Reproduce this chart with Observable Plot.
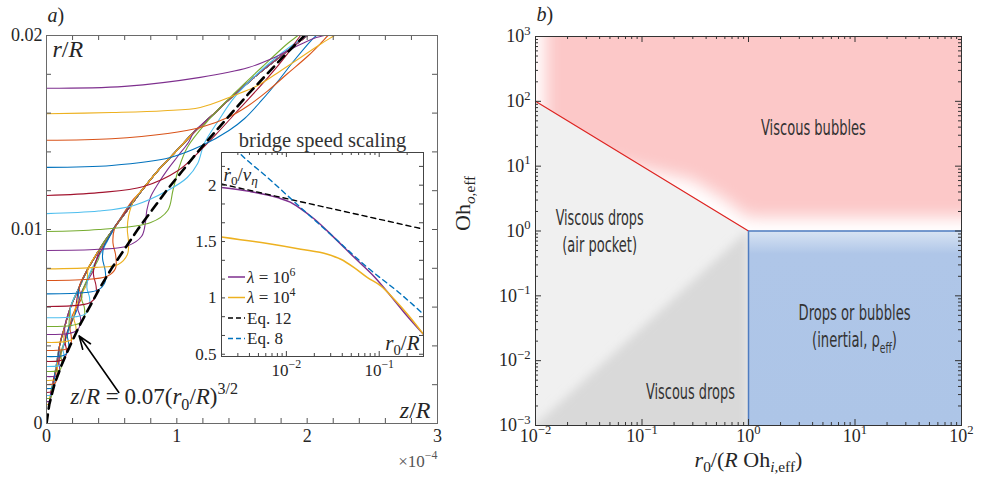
<!DOCTYPE html>
<html><head><meta charset="utf-8">
<script src="https://cdn.jsdelivr.net/npm/d3@7"></script>
<script src="https://cdn.jsdelivr.net/npm/@observablehq/plot@0.6"></script>
<style>
body{margin:0;background:#fff;}
#fig{position:relative;width:986px;height:487px;overflow:hidden;background:#fff;}
</style></head><body><div id="fig"></div><script>
// ---------------- DATA ----------------
// Panel a: neck profiles (z/R in units of 1e-4, r/R), listed from top (latest) to bottom (earliest)
const profiles = [
 [[0,0.01728],[0.6,0.01738],[1.18,0.01784],[1.55,0.01835],[1.75,0.01887],[1.90,0.01938],[2.05,0.01985],[2.13,0.0200],[2.2,0.0202]],
 [[0,0.01597],[0.5,0.01603],[0.9,0.01612],[1.18,0.01629],[1.44,0.01691],[1.62,0.01742],[1.80,0.0182],[1.95,0.01887],[2.11,0.01959],[2.21,0.0200],[2.28,0.0203]],
 [[0,0.0146],[0.5,0.01468],[0.93,0.01495],[1.18,0.01526],[1.40,0.0158],[1.55,0.01639],[1.70,0.01716],[1.85,0.01804],[2.01,0.01897],[2.11,0.01964],[2.16,0.0200],[2.2,0.0202]],
 [[0,0.0132],[0.5,0.0133],[0.95,0.01371],[1.2,0.01435],[1.40,0.0151],[1.52,0.01572],[1.65,0.01665],[1.78,0.01768],[1.90,0.01871],[2.03,0.01974],[2.07,0.0200],[2.1,0.0202]],
 [[0,0.01175],[0.4,0.0119],[0.746,0.01222],[1.01,0.01304],[1.18,0.01407],[1.30,0.0149],[1.49,0.01629],[1.70,0.01784],[1.85,0.01907],[1.95,0.0200],[2.0,0.0203]],
 [[0,0.01082],[0.4,0.01095],[0.67,0.01124],[0.93,0.01201],[1.08,0.01268],[1.16,0.0134],[1.21,0.01443],[1.32,0.01562],[1.44,0.0168],[1.62,0.01804],[1.80,0.01907],[1.99,0.0200],[2.05,0.0203]],
 [[0,0.0099],[0.4,0.01],[0.80,0.01036],[0.93,0.01098],[0.97,0.01201],[1.01,0.01304],[1.08,0.01423],[1.24,0.01562],[1.44,0.01701],[1.65,0.01835],[1.85,0.01959],[1.93,0.0200],[1.98,0.0203]],
 [[0,0.00892],[0.40,0.00898],[0.62,0.00915],[0.73,0.00965],[0.76,0.0104],[0.77,0.0110],[0.80,0.0117],[0.86,0.0124],[0.93,0.0131],[1.01,0.0138],[1.09,0.0145]],
 [[0,0.00797],[0.38,0.00805],[0.55,0.0082],[0.62,0.0087],[0.63,0.0093],[0.62,0.0100],[0.63,0.0107],[0.67,0.0115],[0.74,0.0121]],
 [[0,0.00737],[0.35,0.00745],[0.47,0.0076],[0.53,0.0080],[0.53,0.0087],[0.51,0.0093],[0.52,0.0100],[0.58,0.0107],[0.66,0.0115],[0.73,0.0120]],
 [[0,0.00668],[0.30,0.00675],[0.40,0.0069],[0.45,0.0073],[0.45,0.0079],[0.43,0.0085],[0.44,0.0091],[0.49,0.0097],[0.55,0.0104],[0.61,0.0110]],
 [[0,0.00603],[0.25,0.0061],[0.34,0.00625],[0.38,0.0066],[0.38,0.0071],[0.36,0.0077],[0.37,0.0082],[0.41,0.0088],[0.47,0.0095],[0.53,0.0102]],
 [[0,0.00545],[0.22,0.0055],[0.30,0.00565],[0.33,0.0060],[0.33,0.0065],[0.31,0.0070],[0.32,0.0075],[0.35,0.0080],[0.40,0.0086],[0.46,0.0093]],
 [[0,0.0050],[0.19,0.00505],[0.26,0.0052],[0.29,0.0055],[0.29,0.0060],[0.27,0.0064],[0.28,0.0069],[0.31,0.0074],[0.35,0.0079],[0.40,0.0085]],
 [[0,0.00459],[0.17,0.00464],[0.23,0.00478],[0.26,0.0051],[0.26,0.0055],[0.24,0.0059],[0.25,0.0063],[0.27,0.0068],[0.31,0.0073],[0.36,0.0079]],
 [[0,0.00418],[0.15,0.00422],[0.20,0.00435],[0.225,0.00465],[0.225,0.0050],[0.21,0.0054],[0.215,0.0058],[0.235,0.0062],[0.27,0.0067],[0.31,0.0072]],
 [[0,0.00376],[0.13,0.0038],[0.17,0.0039],[0.19,0.0042],[0.19,0.0045],[0.18,0.0049],[0.185,0.0052],[0.20,0.0056],[0.23,0.0060],[0.27,0.0065]],
 [[0,0.00345],[0.115,0.00348],[0.15,0.00358],[0.17,0.00385],[0.17,0.00415],[0.16,0.0045],[0.165,0.0048],[0.18,0.0051],[0.21,0.0055],[0.24,0.0060]],
 [[0,0.0032],[0.10,0.00323],[0.135,0.00332],[0.152,0.00357],[0.152,0.00385],[0.143,0.00416],[0.147,0.00445],[0.16,0.00475],[0.185,0.0051],[0.215,0.0056]],
 [[0,0.00294],[0.09,0.00297],[0.12,0.00305],[0.134,0.00328],[0.134,0.00354],[0.126,0.00382],[0.13,0.00408],[0.142,0.00436],[0.165,0.0047],[0.19,0.0051]],
 [[0,0.00268],[0.08,0.0027],[0.105,0.00278],[0.117,0.003],[0.117,0.00322],[0.11,0.00348],[0.113,0.00372],[0.124,0.00397],[0.145,0.0043],[0.167,0.0047]],
 [[0,0.00242],[0.07,0.00244],[0.09,0.00251],[0.10,0.0027],[0.10,0.0029],[0.095,0.00314],[0.097,0.00336],[0.107,0.00358],[0.125,0.0039],[0.145,0.0042]],
 [[0,0.00222],[0.06,0.00224],[0.079,0.0023],[0.0875,0.00248],[0.0875,0.00266],[0.083,0.00288],[0.085,0.00308],[0.093,0.00328],[0.109,0.00357],[0.127,0.0039]],
 [[0,0.00201],[0.052,0.00203],[0.068,0.00209],[0.076,0.00225],[0.076,0.00241],[0.072,0.00261],[0.074,0.00279],[0.081,0.00297],[0.095,0.00323],[0.11,0.0035]],
 [[0,0.0018],[0.044,0.00182],[0.058,0.00187],[0.064,0.00202],[0.064,0.00216],[0.061,0.00234],[0.062,0.0025],[0.068,0.00266],[0.08,0.0029],[0.093,0.00314]],
 [[0,0.0016],[0.037,0.00162],[0.048,0.00166],[0.0535,0.0018],[0.0535,0.00192],[0.051,0.00208],[0.052,0.00222],[0.057,0.00237],[0.067,0.00258],[0.078,0.0028]],
 [[0,0.00144],[0.032,0.00146],[0.041,0.0015],[0.046,0.00162],[0.046,0.00173],[0.044,0.00187],[0.045,0.002],[0.049,0.00213],[0.058,0.00232],[0.067,0.00252]],
 [[0,0.00129],[0.027,0.0013],[0.035,0.00134],[0.039,0.00145],[0.039,0.00155],[0.037,0.00168],[0.038,0.00179],[0.042,0.00191],[0.049,0.00208],[0.057,0.00226]],
 [[0,0.00113],[0.022,0.00114],[0.029,0.00117],[0.032,0.00127],[0.032,0.00136],[0.031,0.00147],[0.031,0.00157],[0.034,0.00167],[0.04,0.00182],[0.047,0.00198]],
 [[0,0.00098],[0.018,0.00099],[0.024,0.00102],[0.026,0.0011],[0.026,0.00118],[0.025,0.00127],[0.025,0.00136],[0.028,0.00145],[0.033,0.00158],[0.038,0.00172]]
];
// undisturbed drop shape that the older profiles merge onto
const envelope = [[0,0],[0.012,0.001],[0.03,0.0015],[0.05,0.002],[0.075,0.003],[0.1,0.004],[0.14,0.005],[0.185,0.006],[0.25,0.007],[0.32,0.008],[0.41,0.009],[0.51,0.010],[0.62,0.011],[0.73,0.012],[0.85,0.013],[0.99,0.014],[1.13,0.015],[1.29,0.016],[1.45,0.017],[1.62,0.018],[1.81,0.019],[2.0,0.020],[2.1,0.0205]];
// z/R = 0.07 (r0/R)^{3/2}
const scalingLaw = [[0,0],[0.022,0.001],[0.06,0.002],[0.115,0.003],[0.18,0.004],[0.25,0.005],[0.33,0.006],[0.41,0.007],[0.50,0.008],[0.60,0.009],[0.70,0.010],[0.81,0.011],[0.92,0.012],[1.04,0.013],[1.16,0.014],[1.29,0.015],[1.42,0.016],[1.55,0.017],[1.69,0.018],[1.83,0.019],[1.98,0.020]];
const colorCycle = ["purple","yellow","orange","blue","darkred","lightblue","green"];
const aXTicks = [0,1,2,3];
const aYTicks = [0,0.01,0.02];
const aYTickLabels = ["0","0.01","0.02"];

// Inset: bridge speed scaling (x = r0/R, y = rdot0/v_eta)
const lam6 = [[0.002,1.98],[0.004,1.945],[0.008,1.89],[0.011,1.85],[0.0143,1.79],[0.02,1.70],[0.0327,1.535],[0.0537,1.36],[0.088,1.19],[0.145,0.98],[0.2,0.84],[0.3,0.677]];
const lam4 = [[0.002,1.541],[0.00627,1.482],[0.0143,1.432],[0.0277,1.388],[0.0386,1.343],[0.0537,1.269],[0.0748,1.18],[0.104,1.106],[0.145,0.988],[0.2017,0.855],[0.3,0.677]];
const eq12 = [[0.002,2.01],[0.0245,1.81],[0.3,1.61]];
const eq8 = [[0.0028,2.33],[0.0031,2.29],[0.00627,2.068],[0.0143,1.80],[0.0327,1.535],[0.0748,1.269],[0.171,1.033],[0.3,0.855]];
const insetYTicks = [0.5,1,1.5,2];
const insetXTicks = [0.01,0.1];
const insetXTickLabels = ["10^{−2}","10^{−1}"];
const legendLabels = ["$λ$ = 10^{6}","$λ$ = 10^{4}","Eq. 12","Eq. 8"];

// Panel b: regime map
const bXTicks = [0.01,0.1,1,10,100];
const bXTickLabels = ["10^{−2}","10^{−1}","10^{0}","10^{1}","10^{2}"];
const bYTicks = [1e-3,1e-2,1e-1,1,10,100,1000];
const bYTickLabels = ["10^{−3}","10^{−2}","10^{−1}","10^{0}","10^{1}","10^{2}","10^{3}"];
const redBoundary = [[0.01,100],[1,1]];
const blueBoundary = [[1,1e-3],[1,1],[100,1]];
const pinkEdge = [[0.0125,40],[0.05,12],[0.12,8.5],[0.3,6],[0.6,3],[1,1.6],[1000,1.6]];
const shadeEdge = [[0.006,0.00046],[1,1]];
const blueRegion = [{x1:1,x2:100,y1:1e-3,y2:1}];
const regionLabels = ["Viscous bubbles","Viscous drops","(air pocket)","Drops or bubbles","(inertial, ρ_{eff})","Viscous drops"];

// ---------------- STYLE ----------------
const serif = "'Liberation Serif','DejaVu Serif',serif";
const narrow = "'Liberation Sans Narrow','DejaVu Sans Condensed','DejaVu Sans',sans-serif";
const matlab = {blue:"#0072BD",orange:"#D95319",yellow:"#EDB120",purple:"#7E2F8E",green:"#77AC30",lightblue:"#4DBEEE",darkred:"#A2142F"};
const ink = "#262626";

function ticksX(vals, len, ph, opts={}) {
  return [Plot.tickX(vals,{x:d=>d,insetTop:ph-len,...opts}), Plot.tickX(vals,{x:d=>d,insetBottom:ph-len,...opts})];
}
function ticksY(vals, len, pw, opts={}) {
  return [Plot.tickY(vals,{y:d=>d,insetRight:pw-len,...opts}), Plot.tickY(vals,{y:d=>d,insetLeft:pw-len,...opts})];
}
function logMinor(lo, hi, min, max) {
  const t=[]; for (let e=lo;e<hi;e++) for (let m=2;m<=9;m++){const v=m*Math.pow(10,e); if(v>min*1.0001&&v<max*0.9999) t.push(v);} return t;
}
const R = "rich";

// ---------------- PANEL A ----------------
const rows = [];
for (let i = profiles.length-1; i >= 0; i--) {
  let pts = profiles[i].slice();
  if (i >= 7) { const last = pts[pts.length-1][1]; pts = pts.concat(envelope.filter(p => p[1] > last + 0.0004)); }
  const color = matlab[colorCycle[i % 7]];
  pts.forEach(p => rows.push({curve:i, z:p[0], r:p[1], color}));
}
const aW=460, aH=487, aML=46, aMR=23, aMT=35, aMB=64;
const aPW=aW-aML-aMR, aPH=aH-aMT-aMB;
const aXMinor = d3.range(1,15).map(k=>k*0.2);
const aYMinor = d3.range(1,10).map(k=>k*0.002);
const plotA = Plot.plot({
  width:aW, height:aH, marginLeft:aML, marginRight:aMR, marginTop:aMT, marginBottom:aMB,
  style:{background:"transparent", overflow:"visible", fontFamily:serif, color:ink},
  x:{domain:[0,3], axis:null}, y:{domain:[0,0.02], axis:null},
  color:{type:"identity"},
  marks:[
    Plot.line(rows,{x:"z",y:"r",z:"curve",stroke:"color",strokeWidth:1.1,curve:"catmull-rom",clip:true}),
    Plot.line(scalingLaw,{x:d=>d[0],y:d=>d[1],stroke:"black",strokeWidth:2.6,strokeDasharray:"9,6",clip:true}),
    Plot.arrow([{x1:0.555,y1:0.0016,x2:0.25,y2:0.00452}],{x1:"x1",y1:"y1",x2:"x2",y2:"y2",stroke:"black",strokeWidth:1.6,headLength:13,headAngle:40}),
    ...ticksX(aXMinor,5,aPH,{stroke:"#555"}),
    ...ticksY(aYMinor,5,aPW,{stroke:"#555"}),
    Plot.frame({stroke:"#6a6a6a"}),
    Plot.text(aXTicks,{x:d=>d,frameAnchor:"bottom",dy:18,text:d=>String(d),fontSize:18}),
    Plot.text(aYTicks,{y:d=>d,frameAnchor:"left",dx:-4,textAnchor:"end",text:(d,i)=>aYTickLabels[i],fontSize:18}),
    Plot.text(["×10^{−4}"],{frameAnchor:"bottom-right",textAnchor:"end",lineAnchor:"bottom",dy:43,dx:0,fontSize:17,fill:"#555",ariaDescription:R}),
    Plot.text(["$r$/$R$"],{frameAnchor:"top-left",textAnchor:"start",lineAnchor:"bottom",dx:6,dy:21,fontSize:24,ariaDescription:R}),
    Plot.text(["$z$/$R$"],{frameAnchor:"bottom-right",textAnchor:"end",lineAnchor:"bottom",dx:-7,dy:-6,fontSize:24,ariaDescription:R}),
    Plot.text(["$z$/$R$ = 0.07($r$_{0}/$R$)^{3/2}"],{x:0.185,y:0.00103,textAnchor:"start",lineAnchor:"bottom",fontSize:23,ariaDescription:R}),
    Plot.text(["$a$)"],{frameAnchor:"top-left",textAnchor:"start",lineAnchor:"bottom",dx:1,dy:-14,fontSize:20,ariaDescription:R})
  ]
});

// ---------------- INSET ----------------
const iW=270, iH=270, iML=51, iMR=17, iMT=32, iMB=34;
const iPW=iW-iML-iMR, iPH=iH-iMT-iMB;
const iYMinor = d3.range(0,11).map(k=>0.5+k/6).filter(v=>v>0.49 && v<2.28);
const iXMinor = logMinor(-3,0,0.002,0.3);
const plotI = Plot.plot({
  width:iW, height:iH, marginLeft:iML, marginRight:iMR, marginTop:iMT, marginBottom:iMB,
  style:{background:"transparent", overflow:"visible", fontFamily:serif, color:ink},
  x:{type:"log", domain:[0.002,0.3], axis:null}, y:{domain:[0.48,2.29], axis:null},
  marks:[
    Plot.frame({fill:"white", stroke:null}),
    Plot.line(lam6,{x:d=>d[0],y:d=>d[1],stroke:matlab.purple,strokeWidth:1.5,curve:"monotone-x",clip:true}),
    Plot.line(lam4,{x:d=>d[0],y:d=>d[1],stroke:matlab.yellow,strokeWidth:1.5,curve:"monotone-x",clip:true}),
    Plot.line(eq12,{x:d=>d[0],y:d=>d[1],stroke:"black",strokeWidth:1.4,strokeDasharray:"5,4",clip:true}),
    Plot.line(eq8,{x:d=>d[0],y:d=>d[1],stroke:matlab.blue,strokeWidth:1.4,strokeDasharray:"5,4",curve:"monotone-x",clip:true}),
    ...ticksX(insetXTicks,5,iPH,{stroke:"#444"}),
    ...ticksX(iXMinor,3,iPH,{stroke:"#444"}),
    ...ticksY(iYMinor,4,iPW,{stroke:"#444"}),
    Plot.frame({stroke:"#444"}),
    Plot.text(insetYTicks,{y:d=>d,frameAnchor:"left",dx:-5,textAnchor:"end",text:d=>String(d),fontSize:17}),
    Plot.text(insetXTicks,{x:d=>d,frameAnchor:"bottom",dy:19,text:(d,i)=>insetXTickLabels[i],fontSize:17,ariaDescription:R}),
    Plot.text(["bridge speed scaling"],{frameAnchor:"top",lineAnchor:"bottom",dy:-6,fontSize:20.5,fill:"#333"}),
    Plot.text(["$ṙ$_{0}/$v$_{$η$}"],{frameAnchor:"top-left",textAnchor:"start",lineAnchor:"bottom",dx:2,dy:28,fontSize:19,ariaDescription:R}),
    Plot.text(["$r$_{0}/$R$"],{frameAnchor:"bottom-right",textAnchor:"end",lineAnchor:"bottom",dx:-4,dy:-7,fontSize:21,ariaDescription:R})
  ]
});
// legend inside inset
{
  const g = d3.select(plotI).append("g").attr("aria-description",R).attr("font-family",serif).attr("font-size",17).attr("fill",ink).attr("text-anchor","start");
  const styles = [[matlab.purple,null],[matlab.yellow,null],["black","5,3"],[matlab.blue,"5,3"]];
  legendLabels.forEach((lab,k)=>{
    const y = iMT + 125 + k*20.5;
    g.append("line").attr("x1",iML+7).attr("x2",iML+24).attr("y1",y).attr("y2",y)
      .attr("stroke",styles[k][0]).attr("stroke-width",1.5).attr("stroke-dasharray",styles[k][1]);
    g.append("text").attr("x",iML+26).attr("y",y).attr("dy","0.34em").text(lab);
  });
}

// ---------------- PANEL B ----------------
const bW=506, bH=487, bML=55, bMR=25, bMT=36, bMB=62;
const bPW=bW-bML-bMR, bPH=bH-bMT-bMB;
const bXMinor = logMinor(-2,2,0.01,100);
const bYMinor = logMinor(-3,3,1e-3,1e3);
const rl = (k, x, y, extra="") => Plot.text([regionLabels[k]],{x:()=>x,y:()=>y,fontFamily:narrow,fontSize:21,fill:"#333",ariaDescription:"region "+k+" "+extra});
const plotB = Plot.plot({
  width:bW, height:bH, marginLeft:bML, marginRight:bMR, marginTop:bMT, marginBottom:bMB,
  style:{background:"transparent", overflow:"visible", fontFamily:serif, color:ink},
  x:{type:"log", domain:[0.01,100], axis:null}, y:{type:"log", domain:[1e-3,1e3], axis:null},
  marks:[
    Plot.areaY(pinkEdge,{x:d=>d[0],y1:d=>d[1],y2:()=>1e4,fill:"#fcc8c8",ariaDescription:"pink"}),
    Plot.areaY(redBoundary,{x:d=>d[0],y1:()=>1e-3,y2:d=>d[1],fill:"#f0f0f0"}),
    Plot.areaY(shadeEdge,{x:d=>d[0],y1:()=>1e-4,y2:d=>d[1],fill:"#d9d9d9",ariaDescription:"shade"}),
    Plot.rect(blueRegion,{x1:"x1",x2:"x2",y1:"y1",y2:"y2",fill:"url(#bgrad)"}),
    Plot.line(redBoundary,{x:d=>d[0],y:d=>d[1],stroke:"#de2320",strokeWidth:1.2}),
    Plot.line(blueBoundary,{x:d=>d[0],y:d=>d[1],stroke:"#4f7cc0",strokeWidth:1.5}),
    ...ticksX(bXTicks.slice(1,-1),6,bPH,{stroke:"#333"}),
    ...ticksX(bXMinor,3,bPH,{stroke:"#333"}),
    ...ticksY(bYTicks.slice(1,-1),6,bPW,{stroke:"#333"}),
    ...ticksY(bYMinor,3,bPW,{stroke:"#333"}),
    Plot.frame({stroke:"#333"}),
    Plot.text(bXTicks,{x:d=>d,frameAnchor:"bottom",dy:16,text:(d,i)=>bXTickLabels[i],fontSize:18,ariaDescription:R}),
    Plot.text(bYTicks,{y:d=>d,frameAnchor:"left",dx:-5,textAnchor:"end",text:(d,i)=>bYTickLabels[i],fontSize:18,ariaDescription:R}),
    Plot.text(["Oh_{$o$,eff}"],{frameAnchor:"left",dx:-73,rotate:-90,fontSize:22,ariaDescription:R}),
    Plot.text(["$r$_{0}/($R$ Oh_{$i$,eff})"],{frameAnchor:"bottom",dy:41,fontSize:22,ariaDescription:R}),
    Plot.text(["$b$)"],{frameAnchor:"top-left",textAnchor:"start",lineAnchor:"bottom",dx:1,dy:-16,fontSize:20,ariaDescription:R}),
    rl(0,4.07,38), rl(1,0.04,1.56), rl(2,0.04,0.6), rl(3,9.9,0.053), rl(4,9.9,0.0205,R), rl(5,0.285,0.0032)
  ]
});

// ---------------- ASSEMBLE ----------------
const fig = document.getElementById("fig");
function place(svg,l,t){svg.style.position="absolute";svg.style.left=l+"px";svg.style.top=t+"px";fig.appendChild(svg);}
place(plotA,0,0); place(plotB,480,0); place(plotI,170,120);

// defs for panel b (gradients, blur, clip)
try {
  const xs = plotB.scale("x"), ys = plotB.scale("y");
  const defs = d3.select(plotB).insert("defs",":first-child");
  const lg = defs.append("linearGradient").attr("id","bgrad").attr("x1",0).attr("y1",0).attr("x2",0).attr("y2",1);
  lg.append("stop").attr("offset",0).attr("stop-color","#d9e4f3");
  lg.append("stop").attr("offset",0.12).attr("stop-color","#afc6e8");
  lg.append("stop").attr("offset",1).attr("stop-color","#adc5e7");
  defs.append("filter").attr("id","blurPink").attr("x","-20%").attr("y","-20%").attr("width","140%").attr("height","140%")
    .append("feGaussianBlur").attr("stdDeviation",8);
  defs.append("filter").attr("id","blurShade").attr("x","-20%").attr("y","-20%").attr("width","140%").attr("height","140%")
    .append("feGaussianBlur").attr("stdDeviation",5);
  defs.append("clipPath").attr("id","frameClipB").append("rect").attr("x",bML).attr("y",bMT).attr("width",bPW).attr("height",bPH);
  const gp = [[0.01,100],[1,1],[1,1e-3],[0.01,1e-3]].map(([a,b])=>[xs.apply(a),ys.apply(b)]);
  defs.append("clipPath").attr("id","grayClip").append("path").attr("d","M"+gp.map(p=>p.join(",")).join("L")+"Z");
  const pink = plotB.querySelector('g[aria-description="pink"]');
  if (pink) { pink.setAttribute("filter","url(#blurPink)"); pink.setAttribute("clip-path","url(#frameClipB)"); }
  const shade = plotB.querySelector('g[aria-description="shade"]');
  if (shade) { shade.setAttribute("filter","url(#blurShade)"); shade.setAttribute("clip-path","url(#grayClip)"); }
} catch(e) { console.error(e); }

// rich text: $..$ italic, ^{..} superscript, _{..} subscript
function richify(root){
  root.querySelectorAll('g[aria-description~="rich"] text').forEach(el=>{
    const s = el.textContent;
    const fs = parseFloat(getComputedStyle(el).fontSize)||16;
    while (el.firstChild) el.removeChild(el.firstChild);
    let italic=false, level=0, shift=0, buf="";
    const stack=[];
    const flush=()=>{
      if(!buf) return;
      const t=document.createElementNS("http://www.w3.org/2000/svg","tspan");
      t.textContent=buf;
      t.setAttribute("font-style",italic?"italic":"normal");
      const target = level>0 ? -0.42*fs : level<0 ? 0.26*fs : 0;
      if(level!==0) t.setAttribute("font-size",(0.7*fs).toFixed(1));
      if(Math.abs(target-shift)>1e-6){ t.setAttribute("dy",(target-shift).toFixed(2)); shift=target; }
      el.appendChild(t); buf="";
    };
    for(let i=0;i<s.length;i++){
      const c=s[i];
      if(c==="$"){flush();italic=!italic;}
      else if((c==="^"||c==="_")&&s[i+1]==="{"){flush();stack.push(level);level=c==="^"?1:-1;i++;}
      else if(c==="}"&&stack.length){flush();level=stack.pop();}
      else buf+=c;
    }
    flush();
  });
}
richify(fig);
// condensed region labels: squeeze horizontally to the measured widths
{
  const widths = [105,88,75,112,85,89];
  plotB.querySelectorAll('g[aria-description~="region"]').forEach(g=>{
    const k = +g.getAttribute("aria-description").split(" ")[1];
    g.querySelectorAll("text").forEach(el=>{
      const w = el.getComputedTextLength();
      if (w > 0) { const sx = widths[k]/w; el.setAttribute("transform",(el.getAttribute("transform")||"")+` scale(${sx.toFixed(3)},1)`); }
    });
  });
}
</script></body></html>
